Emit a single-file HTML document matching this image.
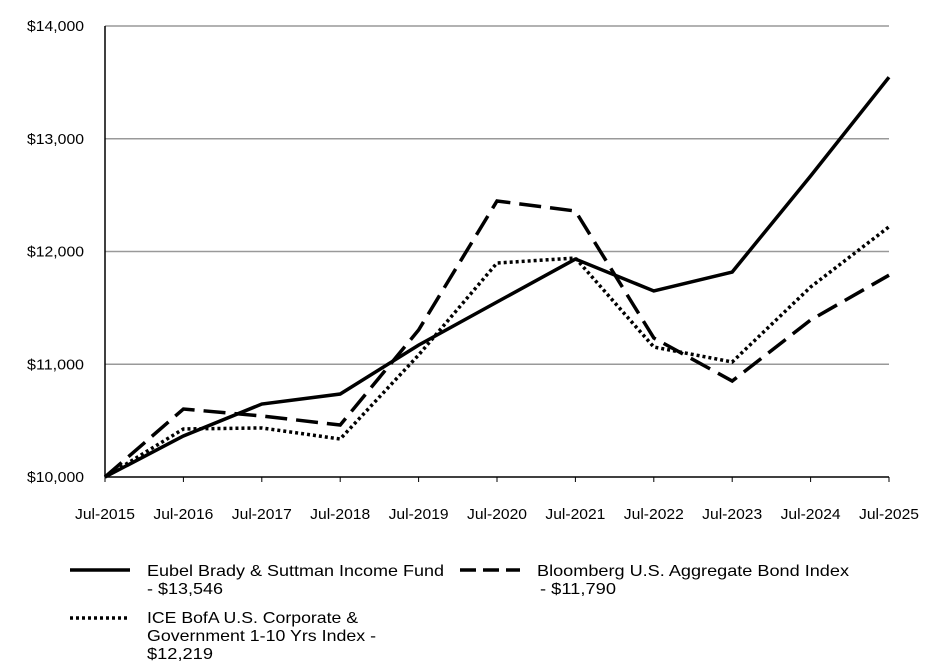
<!DOCTYPE html>
<html><head><meta charset="utf-8"><style>
body{margin:0;background:#fff;font-family:"Liberation Sans",sans-serif;}
svg{display:block}
</style></head><body>
<svg id="chart" width="940" height="666">
<g id="grid"></g>
<g id="axes"></g>
<g id="series"></g>
<g id="legend" font-size="16">
 <line x1="70" y1="570" x2="130" y2="570" stroke="#000" stroke-width="3.5"/>
 <text x="147" y="576" textLength="297" lengthAdjust="spacingAndGlyphs">Eubel Brady &amp; Suttman Income Fund</text>
 <text x="147" y="594" textLength="76" lengthAdjust="spacingAndGlyphs">- $13,546</text>
 <line x1="460" y1="570" x2="520" y2="570" stroke="#000" stroke-width="3.5" stroke-dasharray="16,7"/>
 <text x="537" y="576" textLength="312" lengthAdjust="spacingAndGlyphs">Bloomberg U.S. Aggregate Bond Index</text>
 <text x="540" y="594" textLength="76" lengthAdjust="spacingAndGlyphs">- $11,790</text>
 <line x1="70" y1="618" x2="130" y2="618" stroke="#000" stroke-width="3.5" stroke-dasharray="3,3"/>
 <text x="147" y="623" textLength="211" lengthAdjust="spacingAndGlyphs">ICE BofA U.S. Corporate &amp;</text>
 <text x="147" y="641" textLength="229" lengthAdjust="spacingAndGlyphs">Government 1-10 Yrs Index -</text>
 <text x="147" y="659" textLength="66" lengthAdjust="spacingAndGlyphs">$12,219</text>
</g>
</svg>
<script>
const categories=["Jul-2015","Jul-2016","Jul-2017","Jul-2018","Jul-2019","Jul-2020","Jul-2021","Jul-2022","Jul-2023","Jul-2024","Jul-2025"];
const fundValues=[10000,10364,10647,10736,11170,11552,11933,11650,11818,12670,13546];
const bloombergValues=[10000,10603,10541,10461,11304,12448,12359,11233,10851,11392,11790];
const iceValues=[10000,10426,10435,10337,11082,11898,11942,11153,11020,11685,12219];
const yTicks=[10000,11000,12000,13000,14000];
const yTickLabels=["$10,000","$11,000","$12,000","$13,000","$14,000"];
const NS="http://www.w3.org/2000/svg";
const X0=105,X1=889,Y0=477,Y1=26,VMIN=10000,VMAX=14000;
function xs(i){return X0+(X1-X0)*i/(categories.length-1);}
function ys(v){return Y0-(v-VMIN)/(VMAX-VMIN)*(Y0-Y1);}
function mk(tag,attrs,parent){const e=document.createElementNS(NS,tag);for(const k in attrs)e.setAttribute(k,attrs[k]);parent.appendChild(e);return e;}
const grid=document.getElementById('grid'),axes=document.getElementById('axes'),series=document.getElementById('series');
yTicks.forEach((t,i)=>{
 if(t!==VMIN){const l=mk('line',{x1:X0,x2:X1,y1:ys(t),y2:ys(t),stroke:'#999','stroke-width':1.5},grid);
 
 }
 const tx=mk('text',{x:84,y:ys(t)+5,'font-size':14.5,'text-anchor':'end',textLength:57,lengthAdjust:'spacingAndGlyphs'},axes);
 tx.textContent=yTickLabels[i];
 
 
});
const ya=mk('line',{x1:X0,x2:X0,y1:Y1,y2:Y0,stroke:'#000','stroke-width':1.5},axes);


const xa=mk('line',{x1:X0,x2:X1,y1:Y0,y2:Y0,stroke:'#000','stroke-width':1.5},axes);


categories.forEach((c,i)=>{
 const tk=mk('line',{x1:xs(i),x2:xs(i),y1:Y0,y2:Y0+5,stroke:'#000','stroke-width':1},axes);
 
 
 const tx=mk('text',{x:xs(i),y:519,'font-size':14.5,'text-anchor':'middle',textLength:60,lengthAdjust:'spacingAndGlyphs'},axes);
 tx.textContent=c;
 
 
});
function line(vals,dash,name){
 const p=mk('polyline',{points:vals.map((v,i)=>xs(i)+','+ys(v)).join(' '),fill:'none',stroke:'#000','stroke-width':3.5,'stroke-dasharray':dash},series);
 
 
}
line(iceValues,'3,3','ice-line');
line(bloombergValues,'22,9','bloomberg-line');
line(fundValues,'none','fund-line');
</script>
</body></html>
